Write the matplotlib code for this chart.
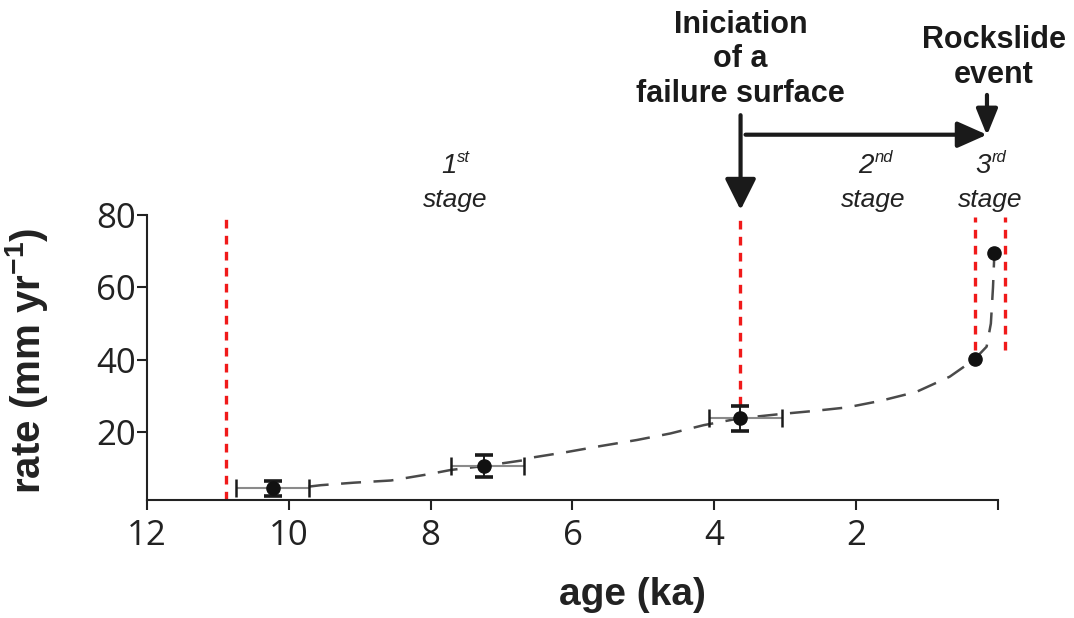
import matplotlib.pyplot as plt
import numpy as np

plt.rcParams['mathtext.fontset'] = 'custom'
plt.rcParams['mathtext.rm'] = 'Liberation Sans'
plt.rcParams['mathtext.it'] = 'Liberation Sans:italic'
plt.rcParams['mathtext.bf'] = 'Liberation Sans:bold'

# dated points (age in ka, rate in mm/yr)
age = [10.23, 7.25, 3.64, 0.33, 0.05]
rate = [4.4, 10.6, 23.8, 40.1, 69.6]

# error bars for the first three points
err_age = [10.23, 7.25, 3.64]
err_rate = [4.4, 10.6, 23.8]
age_err_lo = [0.52, 0.56, 0.59]
age_err_hi = [0.51, 0.47, 0.44]
rate_err = [2.1, 3.0, 3.5]

# fitted curve
curve_age = [9.72, 9.55, 9.08, 8.56, 8.04, 7.72, 7.25, 6.69, 6.55, 6.07, 5.61,
             5.09, 4.62, 4.15, 3.64, 3.05, 2.61, 2.13, 1.66, 1.15, 0.68, 0.33,
             0.16, 0.10, 0.07, 0.05]
curve_rate = [4.9, 5.3, 6.0, 6.6, 8.3, 9.5, 10.6, 12.2, 13.0, 14.5, 16.1,
              17.8, 19.6, 21.9, 23.8, 25.0, 25.8, 26.8, 28.6, 31.1, 35.3, 40.1,
              43.6, 50.0, 60.0, 69.6]

# stage boundaries
bound_age = [10.89, 3.64, 0.33, -0.10]
bound_lo = [1.2, 27.5, 42.6, 42.6]
bound_hi = [80, 80, 79.5, 79.5]

# stage labels
stage_num = ['1', '2', '3']
stage_sup = ['st', 'nd', 'rd']
stage_age = [7.65, 1.76, 0.11]

xticks = [12, 10, 8, 6, 4, 2, 0]
xticklabels = ['12', '10', '8', '6', '4', '2', '']
yticks = [20, 40, 60, 80]

fig = plt.figure(figsize=(10.74, 6.18), dpi=100)
ax = fig.add_axes([0.1369, 0.1909, 0.7923, 0.4612])

ax.plot(curve_age, curve_rate, color='#4a4a4a', lw=1.8, dashes=(8, 5),
        zorder=2)

ax.vlines(bound_age, bound_lo, bound_hi, colors='#f01a1a', lw=2.4,
          linestyles=(0, (2.6, 2.2)), clip_on=False, zorder=1)

ex = ax.errorbar(err_age, err_rate, xerr=[age_err_lo, age_err_hi], fmt='none',
                 ecolor='#8a8a8a', elinewidth=1.5, capsize=6.5, capthick=1.8,
                 zorder=3)
for cap in ex[1]:
    cap.set_markeredgecolor('#1a1a1a')
ey = ax.errorbar(err_age, err_rate, yerr=rate_err, fmt='none',
                 ecolor='#1a1a1a', elinewidth=1.4, capsize=6.5, capthick=2.6,
                 zorder=3)

ax.plot(age, rate, 'o', color='#111111', ms=9.5, zorder=4, clip_on=False)

ax.set_xlim(12, 0)
ax.set_ylim(1.2, 80)
ax.set_xticks(xticks)
ax.set_xticklabels(xticklabels)
ax.set_yticks(yticks)

for s in ['top', 'right']:
    ax.spines[s].set_visible(False)
for s in ['left', 'bottom']:
    ax.spines[s].set_linewidth(1.5)
    ax.spines[s].set_color('#222222')
ax.tick_params(axis='both', width=1.5, length=7, color='#222222',
               labelsize=25, labelcolor='#222222')
ax.tick_params(axis='x', pad=7)
ax.tick_params(axis='y', pad=1)
for lab in ax.get_xticklabels() + ax.get_yticklabels():
    lab.set_family('Open Sans')

ax.set_xlabel('age (ka)', fontsize=28, fontweight='bold',
              family='Liberation Sans', color='#222222')
ax.set_ylabel(r'rate (mm yr$^{\mathbf{-1}}$)', fontsize=29, fontweight='bold',
              family='Liberation Sans', color='#222222')
ax.xaxis.set_label_coords(0.571, -0.27)
ax.yaxis.set_label_coords(-0.114, 0.49)

# annotations above the plot
ax.text(3.63, 123, 'Iniciation\nof a\nfailure surface', ha='center',
        va='center', fontsize=22, fontweight='bold', family='Liberation Sans',
        color='#1a1a1a', linespacing=1.2)
ax.text(0.055, 123.5, 'Rockslide\nevent', ha='center', va='center',
        fontsize=22, fontweight='bold', family='Liberation Sans',
        color='#1a1a1a', linespacing=1.2)

arrow = dict(arrowstyle='-|>,head_length=1.9,head_width=0.95', lw=3,
             color='#1a1a1a', shrinkA=0, shrinkB=0)
ax.annotate('', xy=(3.63, 81.4), xytext=(3.63, 107.6), arrowprops=arrow,
            annotation_clip=False)
ax.annotate('', xy=(0.155, 102.2), xytext=(3.56, 102.2),
            arrowprops=dict(arrow, arrowstyle='-|>,head_length=1.8,head_width=0.8'),
            annotation_clip=False)
ax.annotate('', xy=(0.155, 102.0), xytext=(0.155, 113.2),
            arrowprops=dict(arrow, arrowstyle='-|>,head_length=1.6,head_width=0.65'),
            annotation_clip=False)

stage_kw = dict(va='baseline', color='#222222', family='Liberation Sans',
                style='italic', annotation_clip=False)
for num, sup, a in zip(stage_num, stage_sup, stage_age):
    ax.annotate(num, xy=(a, 91.7), xytext=(-5, 0), textcoords='offset points',
                ha='center', fontsize=20, **stage_kw)
    ax.annotate(sup, xy=(a, 91.7), xytext=(1, 8), textcoords='offset points',
                ha='left', fontsize=12, **stage_kw)
    ax.annotate('stage', xy=(a, 82.2), ha='center', fontsize=19, **stage_kw)

fig.savefig('out.png', dpi=100)
